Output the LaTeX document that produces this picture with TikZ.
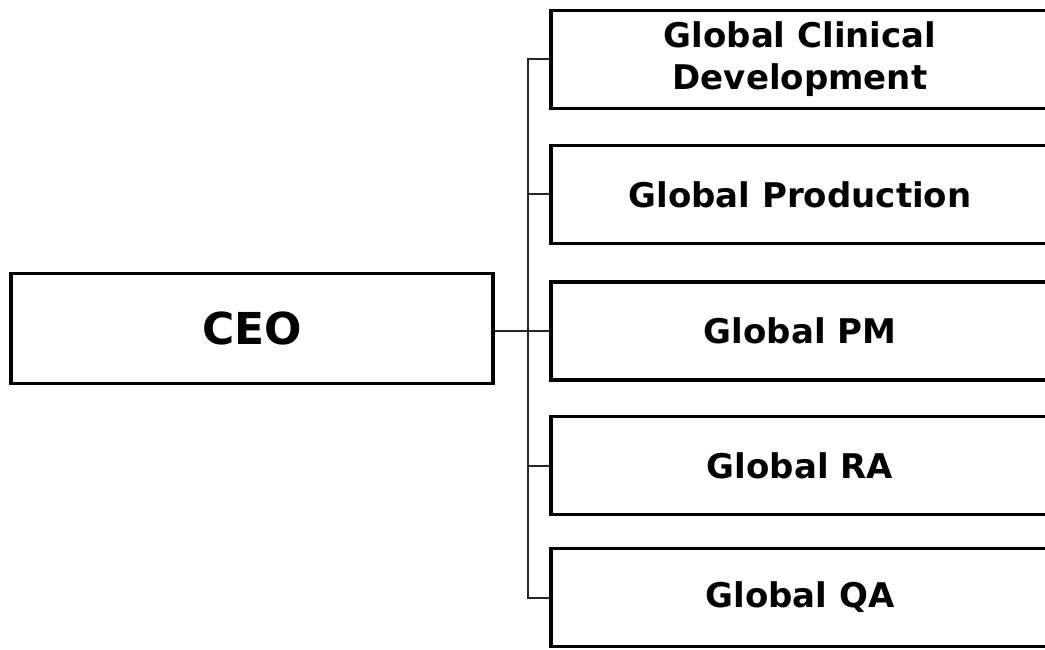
\documentclass[tikz,border=0pt]{standalone}
\usepackage{fontspec}
\setmainfont{DejaVu Sans}
\usetikzlibrary{positioning}

\tikzset{
  unitbox/.style={draw, line width=3.5pt, minimum width=498pt, minimum height=98pt,
    inner sep=0pt, align=center, font=\bfseries\fontsize{34}{42}\selectfont},
  ceobox/.style={draw, line width=3.5pt, minimum width=482pt, minimum height=110pt,
    inner sep=0pt, font=\bfseries\fontsize{44}{50}\selectfont},
  link/.style={line width=2pt, black!85}
}

\begin{document}
\begin{tikzpicture}[x=1pt, y=-1pt]
	\clip (0,0) rectangle (1045,650);
	\fill[white] (0,0) rectangle (1045,650);
	
	% CEO
	\node[ceobox] (ceo) at (252,328.5) {CEO};
	
	% Units
	\node[unitbox] (gcd) at (800,59.5) {Global Clinical\\Development};
	\node[unitbox] (gprod) at (800,194.5) {Global Production};
	\node[unitbox] (gpm) at (800,331) {Global PM};
	\node[unitbox] (gra) at (800,465.5) {Global RA};
	\node[unitbox] (gqa) at (800,597.5) {Global QA};
	
	% Connectors
	\draw[link] (ceo.east |- gpm.west) -- (gpm.west);
	\draw[link] (gcd.west) -- ++(-21pt,0) |- (gqa.west);
	\foreach \n in {gprod,gra}
		\draw[link] (\n.west) -- ++(-21pt,0);
\end{tikzpicture}
\end{document}
